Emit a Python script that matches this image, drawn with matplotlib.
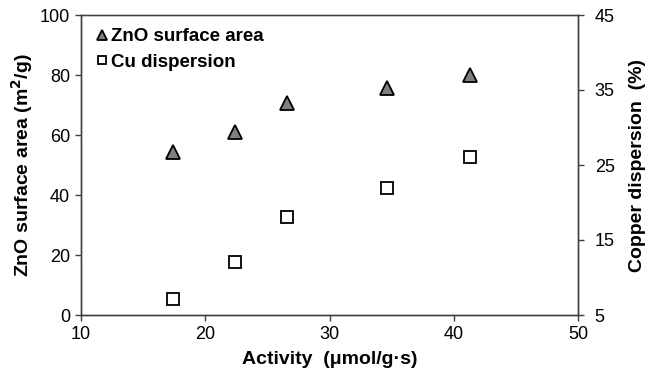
import matplotlib
matplotlib.use('Agg')
import matplotlib.pyplot as plt

plt.rcParams['font.family'] = ['Liberation Sans', 'DejaVu Sans']

# Data
activity = [17.4, 22.4, 26.6, 34.6, 41.3]
zno_area = [54.2, 61.0, 70.8, 75.8, 80.0]
cu_disp = [7.1, 12.1, 18.1, 21.9, 26.1]

fig = plt.figure(figsize=(6.53, 3.81), dpi=100)
ax = fig.add_axes([81 / 653, 1 - 315 / 381, 497 / 653, 300 / 381])
ax2 = ax.twinx()

h1, = ax.plot(activity, zno_area, linestyle='none', marker='^', markersize=10,
              markerfacecolor='#808080', markeredgecolor='black', markeredgewidth=1.3,
              label='ZnO surface area')
h2, = ax2.plot(activity, cu_disp, linestyle='none', marker='s', markersize=9,
               markerfacecolor='white', markeredgecolor='black', markeredgewidth=1.3,
               label='Cu dispersion')

ax.set_xlim(10, 50)
ax.set_ylim(0, 100)
ax2.set_ylim(5, 45)
ax.set_xticks([10, 20, 30, 40, 50])
ax.set_yticks([0, 20, 40, 60, 80, 100])
ax2.set_yticks([5, 15, 25, 35, 45])

for a in (ax, ax2):
    for s in a.spines.values():
        s.set_color('#404040')
        s.set_linewidth(1.0)
    a.tick_params(direction='out', length=4, width=1, colors='#404040',
                  labelcolor='black', labelsize=13, pad=4)
ax2.tick_params(pad=8)
ax.spines['top'].set_color('#808080')

ax.set_xlabel('Activity  (\u03bcmol/g\u00b7s)', fontsize=14, fontweight='bold', labelpad=6)
ax.set_ylabel('ZnO surface area (m$^\\mathbf{2}$/g)', fontsize=14, fontweight='bold', labelpad=3)
ax2.set_ylabel('Copper dispersion  (%)', fontsize=14, fontweight='bold', labelpad=10)

leg = ax.legend(handles=[h1, h2], loc='upper left', frameon=False,
                prop={'weight': 'bold', 'size': 13.5}, handletextpad=0.1,
                handlelength=0.8, markerscale=0.65, borderaxespad=0.3,
                borderpad=0.4, labelspacing=0.45)

fig.savefig('out.png', dpi=100)
